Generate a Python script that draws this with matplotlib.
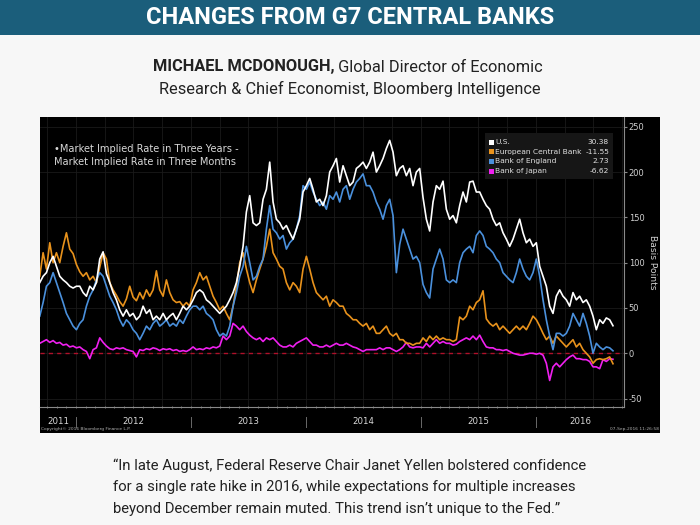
import numpy as np
import pandas as pd
import matplotlib
matplotlib.use('Agg')
import matplotlib.pyplot as plt
from matplotlib.patches import Rectangle
import matplotlib.dates as mdates
import matplotlib.transforms as mtransforms

# ---------------- data (basis points) ----------------
us = [78, 85, 89, 100, 107, 96, 85, 81, 78, 74, 72, 74, 74, 67, 63, 74, 70, 78, 104, 112,
      88, 78, 67, 59, 48, 41, 48, 41, 44, 37, 41, 52, 44, 48, 37, 41, 37, 44, 37, 41,
      44, 37, 44, 52, 48, 52, 59, 67, 70, 67, 59, 56, 52, 48, 44, 48, 52,
      59, 67, 78, 96, 118, 156, 174, 144, 141, 144, 170, 181, 211, 167, 148, 144, 137, 141, 133, 126,
      137, 148, 178, 185, 193, 181, 167, 170, 163, 174, 200, 207, 215, 189, 207, 196, 185, 189, 204, 207,
      211, 204, 211, 222, 200, 207, 215, 226, 235, 222, 196, 204, 207, 196, 204, 185, 200,
      204, 172, 148, 135, 167, 185, 181, 190, 159, 148, 152, 144, 163, 178, 167, 189, 190, 178, 178, 170,
      163, 159, 148, 141, 144, 133, 126, 118, 126, 137, 148, 133, 122, 126, 118, 122, 96, 85, 74, 52,
      44, 63, 70, 63, 59, 52, 67, 59, 63, 56, 59, 52, 41, 26, 37, 33, 39, 37, 30.38]
ecb = [85, 111, 93, 122, 100, 111, 100, 118, 133, 115, 110, 98, 90, 85, 89, 81, 85, 78, 95, 111,
       104, 78, 70, 64, 57, 52, 60, 74, 62, 58, 67, 60, 70, 63, 70, 91, 70, 63, 81, 67,
       59, 56, 57, 52, 56, 52, 70, 78, 89, 81, 85, 74, 63, 56, 48, 52, 44,
       37, 52, 74, 100, 111, 93, 78, 67, 81, 93, 104, 118, 137, 111, 104, 96, 93, 78, 70, 78,
       74, 67, 93, 107, 93, 78, 67, 63, 59, 63, 52, 59, 56, 52, 52, 44, 41, 37, 37, 33,
       30, 33, 26, 30, 22, 22, 26, 30, 22, 19, 22, 15, 15, 11, 11, 9, 11,
       11, 17, 13, 19, 15, 19, 15, 17, 15, 15, 13, 15, 40, 37, 41, 52, 48, 56, 59, 69,
       38, 33, 30, 33, 26, 30, 26, 22, 26, 30, 26, 30, 26, 33, 41, 37, 30, 22, 15, 19,
       11, 19, 15, 11, 7, 11, 15, 7, 11, 4, 0, -4, -11, -7, -6, -7, -6, -4, -11.55]
boe = [41, 56, 74, 78, 89, 78, 67, 56, 44, 37, 30, 26, 33, 37, 52, 63, 70, 81, 89, 85,
       74, 63, 56, 48, 37, 30, 37, 33, 26, 22, 15, 22, 30, 26, 33, 37, 30, 33, 37, 30,
       33, 30, 37, 33, 41, 48, 52, 52, 48, 52, 44, 41, 37, 26, 19, 22, 19,
       30, 52, 67, 85, 96, 118, 100, 81, 85, 96, 104, 137, 163, 137, 133, 126, 130, 115, 122, 126,
       137, 152, 185, 181, 189, 178, 170, 163, 167, 159, 174, 170, 178, 167, 181, 185, 170, 181, 189, 193,
       198, 185, 185, 178, 167, 159, 148, 163, 170, 152, 89, 120, 137, 126, 115, 104, 107,
       100, 76, 67, 61, 93, 104, 115, 104, 81, 78, 81, 78, 100, 111, 115, 118, 111, 130, 135, 130,
       118, 115, 111, 104, 100, 89, 85, 81, 78, 89, 104, 93, 85, 81, 89, 104, 85, 59, 37, 19,
       4, 22, 22, 19, 22, 30, 44, 37, 30, 44, 33, 19, 0, 11, 7, 4, 7, 6, 2.73]
boj = [11, 13, 15, 12, 14, 11, 12, 9, 10, 7, 8, 6, 7, 4, 2, -6, 4, 6, 17, 12,
       8, 5, 4, 6, 5, 6, 4, 3, 2, -4, 4, 3, 5, 4, 6, 5, 3, 5, 4, 5,
       3, 4, 2, 3, 2, 4, 7, 4, 5, 4, 6, 5, 7, 6, 8, 19, 15,
       19, 33, 30, 26, 30, 24, 20, 17, 15, 17, 13, 17, 15, 17, 13, 9, 7, 7, 9, 7,
       11, 13, 15, 17, 13, 9, 9, 7, 7, 9, 7, 9, 11, 9, 9, 11, 9, 7, 6, 4,
       2, 4, 4, 4, 4, 6, 4, 6, 6, 4, 2, 4, 7, 12, 7, 6, 7,
       7, 6, 11, 7, 11, 15, 11, 13, 11, 11, 9, 10, 13, 15, 17, 15, 19, 15, 20, 13,
       7, 6, 6, 4, 4, 3, 4, 2, 0, -1, -2, -2, -1, 0, 0, -1, 0, -2, -11, -30,
       -15, -11, -15, -11, -7, -4, -2, -6, -6, -7, -7, -9, -15, -15, -17, -7, -9, -6, -6.62]

series_names = ['U.S.', 'European Central Bank', 'Bank of England', 'Bank of Japan']
last_values = ['30.38', '-11.55', '2.73', '-6.62']
year_labels = ['2011', '2012', '2013', '2014', '2015', '2016']
y_ticks = [-50, 0, 50, 100, 150, 200, 250]

dates = pd.date_range('2011-09-08', '2016-09-02', periods=len(us))

# ---------------- style ----------------
W, H = 700, 525
BG = '#f7f7f7'
HEADER = '#1b5e7b'
colors = ['#ffffff', '#e8921c', '#4a90dc', '#f020f0']

fig = plt.figure(figsize=(W / 100, H / 100), dpi=100, facecolor=BG)


def fx(x):
    return x / W


def fy(y):
    return 1 - y / H


# header band
fig.patches.append(Rectangle((0, fy(35)), 1, 35 / H, transform=fig.transFigure,
                             facecolor=HEADER, edgecolor='none', zorder=-2))
fig.text(0.5, fy(17), 'CHANGES FROM G7 CENTRAL BANKS', ha='center', va='center',
         color='white', fontsize=17, fontweight='bold', family='Roboto')

# subtitle (bold name + regular rest, centred as one line)
SUB_FS = 11.8
sub1_bold = 'MICHAEL MCDONOUGH,'
sub1_rest = ' Global Director of Economic'
t1 = fig.text(0, fy(67), sub1_bold, ha='left', va='center', color='#222222',
              fontsize=SUB_FS, fontweight='bold', family='Roboto')
t2 = fig.text(0, fy(67), sub1_rest, ha='left', va='center', color='#222222',
              fontsize=SUB_FS, family='Roboto')
fig.canvas.draw()
w1 = t1.get_window_extent().width
w2 = t2.get_window_extent().width
x0 = 348 - (w1 + w2) / 2
t1.set_x(x0 / W)
t2.set_x((x0 + w1) / W)
fig.text(fx(350), fy(89), 'Research & Chief Economist, Bloomberg Intelligence', ha='center',
         va='center', color='#222222', fontsize=SUB_FS, family='Roboto')

# quote
quote = ['\u201cIn late August, Federal Reserve Chair Janet Yellen bolstered confidence',
         'for a single rate hike in 2016, while expectations for multiple increases',
         'beyond December remain muted. This trend isn\u2019t unique to the Fed.\u201d']
for i, line in enumerate(quote):
    fig.text(fx(113), fy(466 + 21.5 * i), line, ha='left', va='center', color='#222222',
             fontsize=10.7, family='Roboto')

# black chart box
BOX_L, BOX_R, BOX_T, BOX_B = 40, 660, 117, 433
fig.patches.append(Rectangle((fx(BOX_L), fy(BOX_B)), (BOX_R - BOX_L) / W, (BOX_B - BOX_T) / H,
                             transform=fig.transFigure, facecolor='black',
                             edgecolor='none', zorder=-1))

AX_L, AX_R, AX_T, AX_B = 40, 624, 117, 407
ax = fig.add_axes([fx(AX_L), fy(AX_B), (AX_R - AX_L) / W, (AX_B - AX_T) / H], facecolor='black')
ax.set_zorder(1)
AXH = AX_B - AX_T


def dec_to_date(y):
    yr = int(y)
    start = pd.Timestamp(f'{yr}-01-01')
    end = pd.Timestamp(f'{yr + 1}-01-01')
    return start + (end - start) * (y - yr)


ax.set_xlim(dec_to_date(2011.687), dec_to_date(2016.765))
ax.set_ylim(-59.3, 260.8)

# faint grid
for v in y_ticks:
    ax.axhline(v, color='#1a1a1a', lw=0.6, zorder=1)
for q in pd.date_range('2011-10-01', '2016-10-01', freq='QS'):
    ax.axvline(q, color='#1a1a1a', lw=0.6, zorder=1)

ax.axhline(0, color='#b0102a', lw=1.0, ls=(0, (3, 3)), zorder=2)

data = [us, ecb, boe, boj]
for i in [3, 1, 2, 0]:
    ax.plot(dates, data[i], color=colors[i], lw=1.2, zorder=3 + (i == 0))

# spines / ticks
for s in ['top', 'left']:
    ax.spines[s].set_visible(False)
for s in ['right', 'bottom']:
    ax.spines[s].set_color('#8a8a8a')
    ax.spines[s].set_linewidth(0.8)
ax.yaxis.tick_right()
ax.set_yticks(y_ticks)
ax.set_yticklabels([str(v) for v in y_ticks])
ax.tick_params(axis='y', colors='#8a8a8a', labelcolor='#d0d0d0', labelsize=6,
               length=2.5, width=0.8, pad=1, direction='out')
ax.xaxis.set_major_locator(mdates.MonthLocator())
ax.tick_params(axis='x', colors='#8a8a8a', length=2, width=0.6, direction='inout',
               labelbottom=False)
ax.set_ylabel('Basis Points', color='#d0d0d0', fontsize=6.6, rotation=270, labelpad=9)
ax.yaxis.set_label_position('right')

# year labels and separators
trans = mtransforms.blended_transform_factory(ax.transData, ax.transAxes)
for yl in year_labels:
    yr = int(yl)
    left = max(pd.Timestamp(f'{yr}-01-01'), dates[0])
    right = min(pd.Timestamp(f'{yr + 1}-01-01'), dec_to_date(2016.765))
    mid = left + (right - left) / 2
    ax.text(mid, -15 / AXH, yl, transform=trans, ha='center', va='center',
            color='#d8d8d8', fontsize=6.2, clip_on=False)
    if yr > 2011:
        ax.plot([pd.Timestamp(f'{yr}-01-01')] * 2, [-10 / AXH, -20 / AXH], transform=trans,
                color='#6a6a6a', lw=0.7, clip_on=False)

fig.text(fx(41), fy(429), 'Copyright\u00a9 2016 Bloomberg Finance L.P.', ha='left',
         va='center', color='#b0b0b0', fontsize=3.2)
fig.text(fx(659), fy(429), '07-Sep-2016 11:26:58', ha='right', va='center',
         color='#b0b0b0', fontsize=3.2)

# annotation
fig.text(fx(54), fy(149), '\u2022Market Implied Rate in Three Years -', ha='left',
         va='center', color='#d8d8d8', fontsize=7.1, zorder=7)
fig.text(fx(54), fy(162), 'Market Implied Rate in Three Months', ha='left',
         va='center', color='#d8d8d8', fontsize=7.1, zorder=7)

# legend
fig.patches.append(Rectangle((fx(485), fy(179)), (613 - 485) / W, (179 - 133) / H,
                             transform=fig.transFigure, facecolor='#161616',
                             edgecolor='none', zorder=5))
for i, (name, val) in enumerate(zip(series_names, last_values)):
    yy = 142 + 9.7 * i
    fig.patches.append(Rectangle((fx(489), fy(yy + 2.5)), 5 / W, 5 / H,
                                 transform=fig.transFigure, facecolor=colors[i],
                                 edgecolor='none', zorder=6))
    fig.text(fx(495), fy(yy), name, ha='left', va='center', color='#e0e0e0',
             fontsize=5.4, zorder=7)
    fig.text(fx(609), fy(yy), val, ha='right', va='center', color='#e0e0e0',
             fontsize=5.4, zorder=7)

fig.savefig('out.png', dpi=100, facecolor=BG)
